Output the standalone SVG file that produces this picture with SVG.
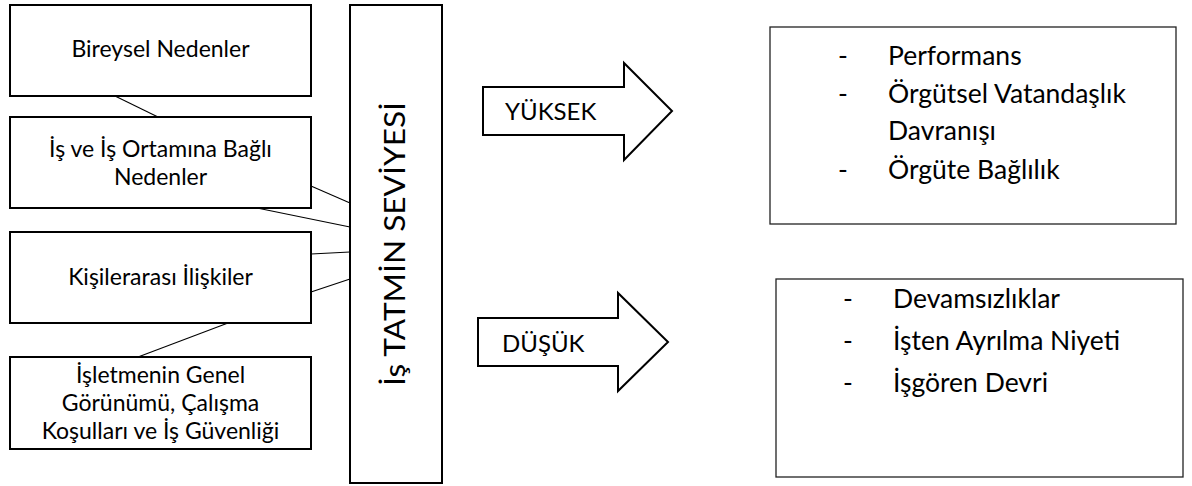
<svg xmlns="http://www.w3.org/2000/svg" width="1192" height="486" viewBox="0 0 1192 486">
<style>
.box{fill:#fff;stroke:#000;stroke-width:2}
.rbox{fill:#fff;stroke:#222;stroke-width:1.3}
.arrow{fill:#fff;stroke:#000;stroke-width:2;stroke-linejoin:miter}
.conn{stroke:#000;stroke-width:1.1;fill:none}
text{font-family:Lato,"Open Sans",sans-serif;fill:#000}
.lt{font-size:23px;text-anchor:middle}
.at{font-size:24px}
.rt{font-size:26.5px}
</style>
<rect width="1192" height="486" fill="#fff"/>
<g id="connectors">
<line class="conn" x1="115" y1="96" x2="158" y2="117"/>
<line class="conn" x1="311" y1="186" x2="350" y2="203"/>
<line class="conn" x1="257" y1="208" x2="350" y2="227"/>
<line class="conn" x1="311" y1="254" x2="350" y2="252"/>
<line class="conn" x1="311" y1="292" x2="350" y2="279"/>
<line class="conn" x1="228" y1="323" x2="138" y2="357"/>
</g>
<g id="bireysel">
<rect class="box" x="10" y="5" width="301" height="91"/>
<text class="lt" x="160.5" y="57">Bireysel Nedenler</text>
</g>
<g id="is-ortami">
<rect class="box" x="10" y="117" width="301" height="91"/>
<text class="lt" x="160.5" y="157">İş ve İş Ortamına Bağlı</text>
<text class="lt" x="160.5" y="185">Nedenler</text>
</g>
<g id="kisilerarasi">
<rect class="box" x="10" y="232" width="301" height="91"/>
<text class="lt" x="160.5" y="285">Kişilerarası İlişkiler</text>
</g>
<g id="isletme">
<rect class="box" x="10" y="357" width="301" height="92"/>
<text class="lt" x="160.5" y="383">İşletmenin Genel</text>
<text class="lt" x="160.5" y="411">Görünümü, Çalışma</text>
<text class="lt" x="160.5" y="439">Koşulları ve İş Güvenliği</text>
</g>
<g id="tatmin">
<rect class="box" x="350" y="5" width="92" height="478"/>
<text x="0" y="0" font-size="29" text-anchor="middle" textLength="284" lengthAdjust="spacingAndGlyphs" transform="translate(405,244) rotate(-90)">İş TATMİN SEVİYESİ</text>
</g>
<g id="yuksek">
<path class="arrow" d="M483,87 H624 V63 L672,111 L624,160 V135 H483 Z"/>
<text class="at" x="505" y="120">YÜKSEK</text>
</g>
<g id="dusuk">
<path class="arrow" d="M478,318 H618 V293 L668,342 L618,391 V366 H478 Z"/>
<text class="at" x="502" y="352">DÜŞÜK</text>
</g>
<g id="olumlu">
<rect class="rbox" x="770" y="27" width="406" height="197"/>
<text class="rt" x="838" y="65">-</text>
<text class="rt" x="888" y="65">Performans</text>
<text class="rt" x="838" y="103">-</text>
<text class="rt" x="888" y="103">Örgütsel Vatandaşlık</text>
<text class="rt" x="888" y="140">Davranışı</text>
<text class="rt" x="838" y="179">-</text>
<text class="rt" x="888" y="179">Örgüte Bağlılık</text>
</g>
<g id="olumsuz">
<rect class="rbox" x="776" y="279" width="407" height="198"/>
<text class="rt" x="843" y="308">-</text>
<text class="rt" x="893" y="308">Devamsızlıklar</text>
<text class="rt" x="843" y="350">-</text>
<text class="rt" x="893" y="350">İşten Ayrılma Niyeti</text>
<text class="rt" x="843" y="392">-</text>
<text class="rt" x="893" y="392">İşgören Devri</text>
</g>
</svg>
